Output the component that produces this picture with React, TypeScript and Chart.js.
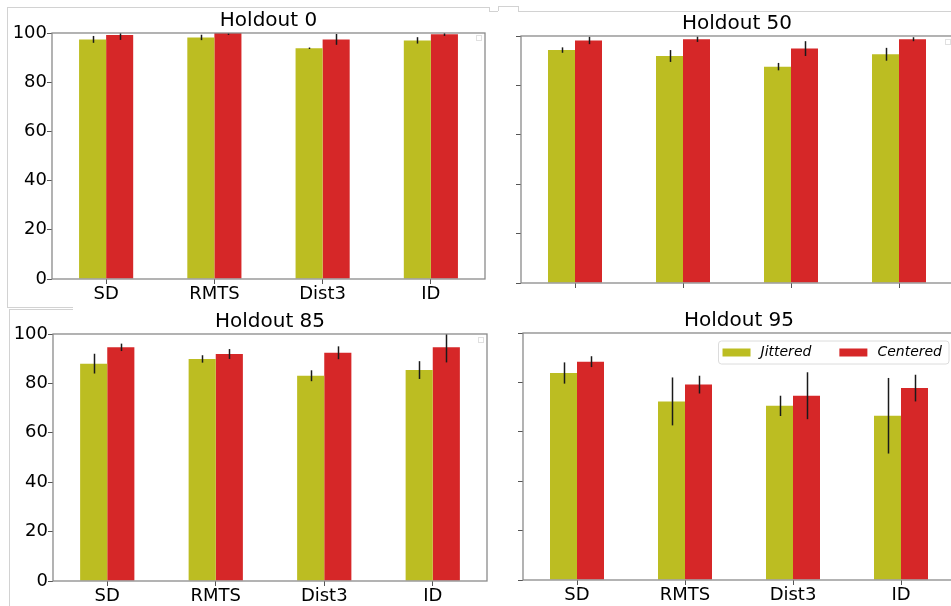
import React, { useEffect, useRef } from "react";
import { Chart, registerables } from "chart.js";

Chart.register(...registerables);

// ---------- data ----------
const categories = ["SD", "RMTS", "Dist3", "ID"];
const seriesNames = ["Jittered", "Centered"];
const panelTitles = ["Holdout 0", "Holdout 50", "Holdout 85", "Holdout 95"];
const yTickValues = [0, 20, 40, 60, 80, 100];

const h0Jittered = [97.4, 98.2, 93.8, 97.0];
const h0JitteredErr = [1.4, 1.1, 0.3, 1.3];
const h0Centered = [99.2, 100.0, 97.4, 99.5];
const h0CenteredErr = [2.0, 0.8, 2.2, 0.7];

const h50Jittered = [94.3, 91.9, 87.6, 92.6];
const h50JitteredErr = [1.1, 2.4, 1.5, 2.6];
const h50Centered = [98.2, 98.7, 94.9, 98.7];
const h50CenteredErr = [1.5, 1.1, 3.0, 0.8];

const h85Jittered = [88.0, 89.9, 83.1, 85.4];
const h85JitteredErr = [4.0, 1.5, 2.2, 3.6];
const h85Centered = [94.6, 91.9, 92.4, 94.6];
const h85CenteredErr = [1.5, 2.0, 2.6, 6.1];

const h95Jittered = [83.8, 72.3, 70.5, 66.5];
const h95JitteredErr = [4.3, 9.7, 4.1, 15.3];
const h95Centered = [88.4, 79.1, 74.6, 77.7];
const h95CenteredErr = [2.2, 3.6, 9.5, 5.4];

// ---------- styles ----------
const FONT = '"DejaVu Sans", "Liberation Sans", sans-serif';
const OLIVE = "#bcbd22";
const RED = "#d62728";

const errorBarPlugin = {
  id: "errorBars",
  afterDatasetsDraw(chart: any) {
    const ctx = chart.ctx;
    const a = chart.chartArea;
    const y = chart.scales.y;
    ctx.save();
    ctx.beginPath();
    ctx.rect(a.left, a.top, a.right - a.left, a.bottom - a.top);
    ctx.clip();
    ctx.strokeStyle = "#1a1a1a";
    ctx.lineWidth = 1.5;
    chart.data.datasets.forEach((ds: any, i: number) => {
      const meta = chart.getDatasetMeta(i);
      meta.data.forEach((bar: any, j: number) => {
        const v = ds.data[j];
        const e = ds.errors ? ds.errors[j] : 0;
        if (!e) return;
        ctx.beginPath();
        ctx.moveTo(Math.round(bar.x) + 0.5, y.getPixelForValue(v - e));
        ctx.lineTo(Math.round(bar.x) + 0.5, y.getPixelForValue(v + e));
        ctx.stroke();
      });
    });
    ctx.restore();
  },
};

const framePlugin = {
  id: "frame",
  afterDraw(chart: any) {
    const ctx = chart.ctx;
    const a = chart.chartArea;
    ctx.save();
    ctx.strokeStyle = "#8a8a8a";
    ctx.lineWidth = 1.3;
    ctx.strokeRect(a.left, a.top, a.right - a.left, a.bottom - a.top);
    ctx.restore();
  },
};

const boxLegendPlugin = {
  id: "boxLegend",
  afterDraw(chart: any, _args: any, opts: any) {
    if (!opts || !opts.show) return;
    const ctx = chart.ctx;
    const a = chart.chartArea;
    ctx.save();
    ctx.font = "italic 14px " + FONT;
    const sw = 28, sh = 8, padL = 4, padR = 7, gapT = 10, gapI = 28, bh = 23;
    const items = chart.data.datasets.map((d: any) => ({
      label: d.label,
      color: d.backgroundColor,
      w: ctx.measureText(d.label).width,
    }));
    let total = padL + padR;
    items.forEach((it: any, k: number) => {
      total += sw + gapT + it.w + (k < items.length - 1 ? gapI : 0);
    });
    const right = a.right - 6;
    const left = right - total;
    const top = a.top + 8;
    const r = 3;
    ctx.beginPath();
    ctx.moveTo(left + r, top);
    ctx.lineTo(right - r, top);
    ctx.quadraticCurveTo(right, top, right, top + r);
    ctx.lineTo(right, top + bh - r);
    ctx.quadraticCurveTo(right, top + bh, right - r, top + bh);
    ctx.lineTo(left + r, top + bh);
    ctx.quadraticCurveTo(left, top + bh, left, top + bh - r);
    ctx.lineTo(left, top + r);
    ctx.quadraticCurveTo(left, top, left + r, top);
    ctx.closePath();
    ctx.fillStyle = "rgba(255,255,255,0.85)";
    ctx.fill();
    ctx.strokeStyle = "#dcdcdc";
    ctx.lineWidth = 1;
    ctx.stroke();
    let x = left + padL;
    const cy = top + bh / 2;
    ctx.textBaseline = "middle";
    ctx.textAlign = "left";
    items.forEach((it: any) => {
      ctx.fillStyle = it.color;
      ctx.fillRect(x, cy - sh / 2, sw, sh);
      x += sw + gapT;
      ctx.fillStyle = "#000";
      ctx.fillText(it.label, x, cy);
      x += it.w + gapI;
    });
    ctx.restore();
  },
};

type PanelSpec = {
  title: string;
  j: number[];
  je: number[];
  c: number[];
  ce: number[];
  left: number;
  top: number;
  w: number;
  h: number;
  yW: number;
  xH: number;
  padRight: number;
  titleTop: number;
  showX: boolean;
  showY: boolean;
  legend: boolean;
};

const panels: PanelSpec[] = [
  { title: panelTitles[0], j: h0Jittered, je: h0JitteredErr, c: h0Centered, ce: h0CenteredErr,
    left: 0, top: 0, w: 500, h: 305, yW: 52, xH: 26, padRight: 15, titleTop: 9, showX: true, showY: true, legend: false },
  { title: panelTitles[1], j: h50Jittered, je: h50JitteredErr, c: h50Centered, ce: h50CenteredErr,
    left: 490, top: 0, w: 470, h: 305, yW: 31, xH: 22, padRight: 7, titleTop: 12, showX: false, showY: false, legend: false },
  { title: panelTitles[2], j: h85Jittered, je: h85JitteredErr, c: h85Centered, ce: h85CenteredErr,
    left: 0, top: 305, w: 500, h: 301, yW: 53, xH: 25, padRight: 13, titleTop: 5, showX: true, showY: true, legend: false },
  { title: panelTitles[3], j: h95Jittered, je: h95JitteredErr, c: h95Centered, ce: h95CenteredErr,
    left: 490, top: 305, w: 470, h: 301, yW: 33, xH: 26, padRight: 5, titleTop: 4, showX: true, showY: false, legend: true },
];

function Panel({ p }: { p: PanelSpec }) {
  const ref = useRef<HTMLCanvasElement>(null);
  useEffect(() => {
    if (!ref.current) return;
    const chart = new Chart(ref.current, {
      type: "bar",
      data: {
        labels: categories,
        datasets: [
          { label: seriesNames[0], data: p.j, backgroundColor: OLIVE, errors: p.je } as any,
          { label: seriesNames[1], data: p.c, backgroundColor: RED, errors: p.ce } as any,
        ],
      },
      options: {
        responsive: false,
        animation: false,
        events: [],
        layout: { padding: { left: 0, right: p.padRight, top: 0, bottom: 0 } },
        datasets: { bar: { categoryPercentage: 0.5, barPercentage: 1 } } as any,
        plugins: {
          legend: { display: false },
          tooltip: { enabled: false },
          title: {
            display: true,
            text: p.title,
            fullSize: false,
            color: "#000",
            font: { family: FONT, size: 20, weight: "normal" as any, lineHeight: 1.2 },
            padding: { top: p.titleTop, bottom: 0 },
          },
          boxLegend: { show: p.legend },
        } as any,
        scales: {
          x: {
            grid: { display: true, drawOnChartArea: false, drawTicks: true, tickLength: 5, offset: false, color: "#555" },
            border: { display: false },
            ticks: { display: p.showX, color: "#000", padding: 0, maxRotation: 0, font: { family: FONT, size: 18 } },
            afterFit: (s: any) => { s.height = p.xH; },
          },
          y: {
            min: 0,
            max: 100,
            afterBuildTicks: (s: any) => { s.ticks = yTickValues.map((v) => ({ value: v })); },
            grid: { display: true, drawOnChartArea: false, drawTicks: true, tickLength: 5, color: "#555" },
            border: { display: false },
            ticks: { display: p.showY, color: "#000", padding: 0, font: { family: FONT, size: 18 } },
            afterFit: (s: any) => { s.width = p.yW; },
          },
        } as any,
      },
      plugins: [errorBarPlugin, framePlugin, boxLegendPlugin],
    });
    return () => chart.destroy();
  }, [p]);
  return (
    <canvas
      ref={ref}
      width={p.w}
      height={p.h}
      style={{ position: "absolute", left: p.left, top: p.top, width: p.w, height: p.h }}
    />
  );
}

const line = (l: number, t: number, w: number, h: number) => (
  <div style={{ position: "absolute", left: l, top: t, width: w, height: h, background: "#d2d2d2" }} />
);
const square = (l: number, t: number) => (
  <div style={{ position: "absolute", left: l, top: t, width: 4, height: 4, border: "1px solid #e0e0e0" }} />
);

export default function App() {
  return (
    <div style={{ position: "absolute", left: 0, top: 0, width: 951, height: 606, overflow: "hidden", background: "#fff" }}>
      {line(7, 7, 483, 1)}
      {line(7, 7, 1, 300)}
      {line(7, 307, 66, 1)}
      {line(489, 7, 1, 5)}
      {line(489, 11, 9, 1)}
      {line(498, 6, 1, 5)}
      {line(498, 6, 20, 1)}
      {line(518, 6, 1, 5)}
      {line(518, 11, 433, 1)}
      {line(9, 309, 64, 1)}
      {line(9, 309, 1, 297)}
      {square(476, 35)}
      {square(945, 39)}
      {square(478, 337)}
      {panels.map((p, i) => (
        <Panel key={i} p={p} />
      ))}
    </div>
  );
}
